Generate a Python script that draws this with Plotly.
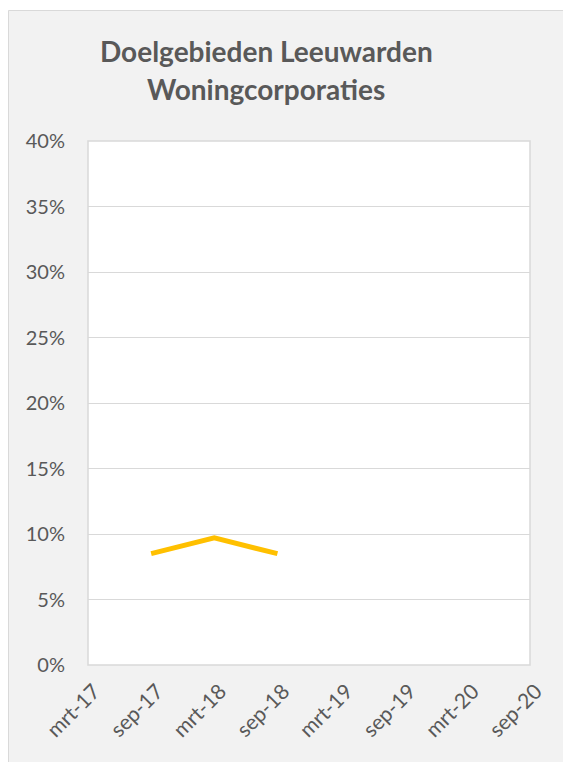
import plotly.graph_objects as go

categories = ["mrt-17", "sep-17", "mrt-18", "sep-18", "mrt-19", "sep-19", "mrt-20", "sep-20"]
values = [None, 0.085, 0.097, 0.085, None, None, None, None]
title_lines = ["Doelgebieden Leeuwarden", "Woningcorporaties"]

OFF = 8  # page body margin
W, H = 571 - OFF, 762 - OFF
# screen-pixel geometry of the plot area
L, R, T, B = 88, 530, 141, 665
pw, ph = R - L, B - T

def px(x):
    return (x - L) / pw

def py(y):
    return (B - y) / ph

fig = go.Figure()
fig.add_trace(go.Scatter(
    x=categories, y=values, mode="lines",
    line=dict(color="#FFC000", width=5), connectgaps=False,
    hoverinfo="skip", showlegend=False,
))

txt = "#595959"
fig.update_layout(
    width=W, height=H,
    margin=dict(l=L - OFF, r=W - (R - OFF), t=T - OFF, b=H - (B - OFF), autoexpand=False),
    paper_bgcolor="white",
    plot_bgcolor="rgba(0,0,0,0)",
    font=dict(family="Lato", color=txt, size=20),
    shapes=[
        dict(type="rect", xref="paper", yref="paper", layer="below",
             x0=px(8.5), x1=px(590), y0=py(790), y1=py(10.5),
             fillcolor="#F2F2F2", line=dict(color="#D9D9D9", width=1)),
        dict(type="rect", xref="paper", yref="paper", layer="below",
             x0=0, x1=1, y0=0, y1=1,
             fillcolor="white", line=dict(color="#D9D9D9", width=1.5)),
    ],
    xaxis=dict(
        type="category", range=[0, len(categories) - 1],
        showgrid=False, zeroline=False, showline=False,
        ticks="", tickangle=-45, tickfont=dict(size=21, color=txt),
        ticklabelstandoff=9, ticklabelshift=6,
        fixedrange=True,
    ),
    yaxis=dict(
        range=[0, 0.4], dtick=0.05, tickformat=".0%",
        showgrid=True, gridcolor="#D9D9D9", gridwidth=1,
        zeroline=False, showline=False, ticks="",
        tickfont=dict(size=20, color=txt), ticklabelstandoff=22,
        fixedrange=True,
    ),
    annotations=[
        dict(text="<b>%s</b>" % title_lines[0], xref="paper", yref="paper",
             x=px(266), y=py(51), xanchor="center", yanchor="middle",
             showarrow=False, font=dict(size=28, color=txt, family="Lato")),
        dict(text="<b>%s</b>" % title_lines[1], xref="paper", yref="paper",
             x=px(266), y=py(89), xanchor="center", yanchor="middle",
             showarrow=False, font=dict(size=28, color=txt, family="Lato")),
    ],
)

fig.write_html("out.html")
